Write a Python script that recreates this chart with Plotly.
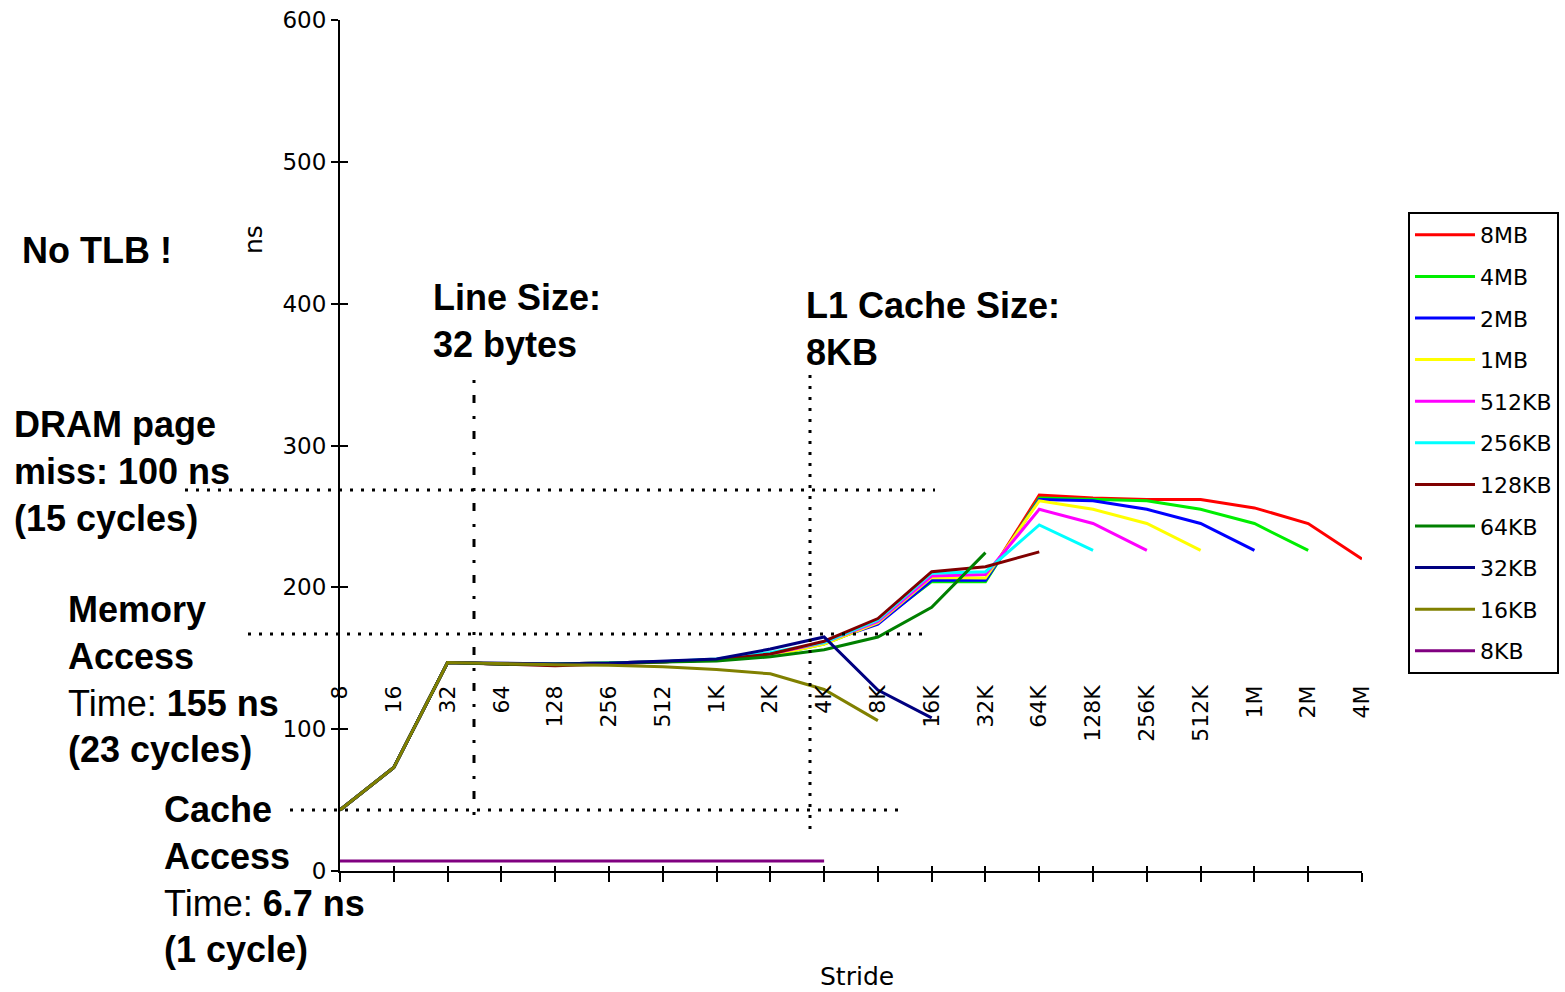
import plotly.graph_objects as go

# Stride categories (bytes)
strides = ["8", "16", "32", "64", "128", "256", "512", "1K", "2K", "4K",
           "8K", "16K", "32K", "64K", "128K", "256K", "512K", "1M", "2M", "4M"]

# Average access time (ns) per array size, one value per stride
t_8MB = [43, 73, 147, 146, 146, 146.5, 147.5, 149, 153, 161, 176, 205, 205, 265, 263, 262, 262, 256, 245, 220]
t_4MB = [43, 73, 147, 146, 146, 146.5, 147.5, 149, 152, 160, 175, 204, 204, 263, 262, 261, 255, 245, 226]
t_2MB = [43, 73, 147, 146, 146, 146.5, 147.5, 149, 153, 161, 174, 205, 205, 262, 261, 255, 245, 226]
t_1MB = [43, 73, 147, 146, 146, 146.5, 147.5, 149, 152, 160, 175, 207, 206.5, 261, 255, 245, 226]
t_512KB = [43, 73, 147, 146, 146, 146.5, 147.5, 149, 153, 161, 176, 208, 209, 255, 245, 226]
t_256KB = [43, 73, 147, 146, 146, 146.5, 147.5, 149.5, 154, 161, 177, 210, 211, 244, 226]
t_128KB = [43, 73, 147, 146, 144.7, 146, 147.5, 149, 153, 162, 178, 211, 214.5, 225]
t_64KB = [43, 73, 147, 146, 146, 146.5, 147, 148, 151, 156, 165, 186, 224.5]
t_32KB = [43, 73, 147, 146.5, 146, 146.5, 148, 149.5, 156.5, 165, 127.6, 108]
t_16KB = [43, 73, 147, 146, 145.5, 145, 144, 142, 139, 128, 106]
t_8KB = [7, 7, 7, 7, 7, 7, 7, 7, 7, 7]

series = [
    ("8MB", t_8MB, "#ff0000"),
    ("4MB", t_4MB, "#00ee00"),
    ("2MB", t_2MB, "#0000ff"),
    ("1MB", t_1MB, "#ffff00"),
    ("512KB", t_512KB, "#ff00ff"),
    ("256KB", t_256KB, "#00ffff"),
    ("128KB", t_128KB, "#800000"),
    ("64KB", t_64KB, "#008000"),
    ("32KB", t_32KB, "#000080"),
    ("16KB", t_16KB, "#808000"),
    ("8KB", t_8KB, "#800080"),
]

W, H = 1565, 992
L, R, T, B = 340, 1362, 20, 871  # plot area in pixels


def px_x(p):
    return (p - L) / (R - L)


def px_y(p):
    return (B - p) / (B - T)


TICK_FONT = dict(family="DejaVu Sans", size=23, color="black")
XTICK_FONT = dict(family="DejaVu Sans", size=22, color="black")
BOLD_FONT = dict(family="Liberation Sans, Arial", size=36, color="black")
TITLE_FONT = dict(family="DejaVu Sans", size=25, color="black")

fig = go.Figure()

for name, vals, color in series:
    fig.add_trace(go.Scatter(
        x=strides[:len(vals)], y=vals, name=name, mode="lines",
        line=dict(color=color, width=3), legendgroup=name,
    ))

# helper traces so the overlaid axes (inner tick halves, stride labels) are drawn
fig.add_trace(go.Scatter(x=strides, y=[None] * len(strides), xaxis="x3", yaxis="y2",
                         showlegend=False, hoverinfo="skip"))
fig.add_trace(go.Scatter(x=strides, y=[None] * len(strides), xaxis="x2", yaxis="y",
                         showlegend=False, hoverinfo="skip"))

cat_axis = dict(type="category", categoryorder="array", categoryarray=strides,
                range=[0, len(strides) - 1], showgrid=False, zeroline=False)

fig.update_layout(
    width=W, height=H,
    margin=dict(l=L, r=W - R, t=T, b=H - B, pad=0, autoexpand=False),
    paper_bgcolor="white", plot_bgcolor="white",
    xaxis=dict(**cat_axis, showline=True, linecolor="black", linewidth=2,
               ticks="outside", ticklen=9, tickwidth=2, tickcolor="black",
               showticklabels=False),
    xaxis2=dict(**cat_axis, overlaying="x", anchor="free", position=px_y(680),
                side="bottom", showline=False, ticks="", tickangle=-90,
                tickfont=XTICK_FONT),
    xaxis3=dict(**cat_axis, overlaying="x", anchor="y2", showline=False,
                ticks="inside", ticklen=5, tickwidth=2, tickcolor="black",
                showticklabels=False),
    yaxis=dict(range=[0, 600], tickvals=[0, 100, 200, 300, 400, 500, 600],
               showline=True, linecolor="black", linewidth=2,
               ticks="outside", ticklen=7, tickwidth=2, tickcolor="black",
               tickfont=TICK_FONT, showgrid=False, zeroline=False),
    yaxis2=dict(range=[0, 600], tickvals=[0, 100, 200, 300, 400, 500, 600],
                overlaying="y", anchor="x3", showline=False,
                ticks="inside", ticklen=8, tickwidth=2, tickcolor="black",
                showticklabels=False, showgrid=False, zeroline=False),
    legend=dict(x=px_x(1408), y=px_y(212), xanchor="left", yanchor="top",
                bordercolor="black", borderwidth=2, bgcolor="white",
                font=dict(family="DejaVu Sans", size=22, color="black"),
                tracegroupgap=10, traceorder="grouped", itemwidth=60),
    showlegend=True,
)

# dotted guide lines
DOT = "3px,8px"
DASHDOT = "3px,12px,8px,13px"
guides = [
    (185, 490, 935, 490, DOT),
    (248, 634, 922, 634, DOT),
    (290, 810, 905, 810, DOT),
    (474, 380, 474, 820, DASHDOT),
    (810, 375, 810, 830, DOT),
]
for x0, y0, x1, y1, dash in guides:
    fig.add_shape(type="line", xref="paper", yref="paper",
                  x0=px_x(x0), y0=px_y(y0), x1=px_x(x1), y1=px_y(y1),
                  line=dict(color="black", width=3, dash=dash))

notes = [
    (20, 250, "<b>No TLB !</b>"),
    (12, 472, "<b>DRAM page</b><br><b>miss: 100 ns</b><br><b>(15 cycles)</b>"),
    (66, 679, "<b>Memory</b><br><b>Access</b><br>Time: <b>155 ns</b><br><b>(23 cycles)</b>"),
    (162, 879, "<b>Cache</b><br><b>Access</b><br>Time: <b>6.7 ns</b><br><b>(1 cycle)</b>"),
    (431, 321, "<b>Line Size:</b><br><b>32 bytes</b>"),
    (804, 329, "<b>L1 Cache Size:</b><br><b>8KB</b>"),
]
for x, y, txt in notes:
    fig.add_annotation(xref="paper", yref="paper", x=px_x(x), y=px_y(y),
                       xanchor="left", yanchor="middle", align="left",
                       text=txt, showarrow=False, font=BOLD_FONT)

fig.add_annotation(xref="paper", yref="paper", x=px_x(253), y=px_y(240),
                   xanchor="center", yanchor="middle",
                   text="ns", textangle=-90, showarrow=False, font=TITLE_FONT)
fig.add_annotation(xref="paper", yref="paper", x=px_x(857), y=px_y(976),
                   xanchor="center", yanchor="middle",
                   text="Stride", showarrow=False, font=TITLE_FONT)

fig.write_html("out.html")
